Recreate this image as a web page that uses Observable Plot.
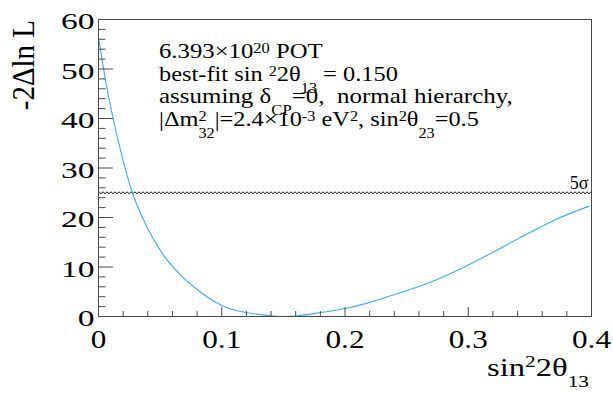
<!DOCTYPE html>
<html><head><meta charset="utf-8">
<script src="https://cdn.jsdelivr.net/npm/d3@7"></script>
<script src="https://cdn.jsdelivr.net/npm/@observablehq/plot@0.6"></script>
<style>
body{margin:0;background:#fff;}
svg{display:block}
</style>
</head><body><div id="chart"></div>
<script>
// ---- data ----
const sin2theta13 = [0, 0.006, 0.013, 0.020, 0.0275, 0.0395, 0.053, 0.0665, 0.080, 0.0935, 0.107, 0.1207, 0.131, 0.140, 0.150, 0.160, 0.180, 0.200, 0.218, 0.237, 0.264, 0.291, 0.318, 0.345, 0.372, 0.398];
const minus2dlnL  = [56.4, 47.3, 38.7, 31.5, 25, 18.0, 12.3, 8.4, 5.45, 3.1, 1.55, 0.75, 0.4, 0.13, 0, 0.1, 0.8, 1.6, 2.7, 4.2, 6.4, 9.3, 12.7, 16.3, 19.7, 22.3];
const xMajorTicks = [0, 0.1, 0.2, 0.3, 0.4];
const xTickLabels = ["0", "0.1", "0.2", "0.3", "0.4"];
const xMinorTicks = [0.02, 0.04, 0.06, 0.08, 0.12, 0.14, 0.16, 0.18, 0.22, 0.24, 0.26, 0.28, 0.32, 0.34, 0.36, 0.38];
const yMajorTicks = [0, 10, 20, 30, 40, 50, 60];
const yTickLabels = ["0", "10", "20", "30", "40", "50", "60"];
const yMinorTicks = [2, 4, 6, 8, 12, 14, 16, 18, 22, 24, 26, 28, 32, 34, 36, 38, 42, 44, 46, 48, 52, 54, 56, 58];
const fiveSigma = [{x: 0.4, y: 25, label: "5σ"}];
const xDomain = [0, 0.4];
const yDomain = [0, 60];
// rich text segments: [text, position] with position "b" base, "p" superscript, "s" subscript, "S" subscript stacked under previous superscript
const legendLines = [
  [["6.393×10", "b"], ["20", "p"], [" POT", "b"]],
  [["best-fit sin ", "b"], ["2", "p"], ["2θ", "b"], ["13", "s"], [" = 0.150", "b"]],
  [["assuming δ", "b"], ["CP", "s"], ["=0,  normal hierarchy,", "b"]],
  [["|Δm", "b"], ["2", "p"], ["32", "S"], ["|=2.4×10", "b"], ["-3", "p"], [" eV", "b"], ["2", "p"], [", sin", "b"], ["2", "p"], ["θ", "b"], ["23", "s"], ["=0.5", "b"]]
];
const xTitle = [["sin", "b"], ["2", "p"], ["2θ", "b"], ["13", "s"]];
const yTitle = "-2Δln L";

// ---- layout ----
const W = 613, H = 397, mL = 98, mR = 22, mT = 19, mB = 81;
const innerW = W - mL - mR, innerH = H - mT - mB;
const axisColor = "#4a4a4a";
const serif = "Liberation Serif, Times New Roman, Times, serif";

const curve = sin2theta13.map((x, i) => ({x, y: minus2dlnL[i]}));

const chart = Plot.plot({
  width: W, height: H,
  marginLeft: mL, marginRight: mR, marginTop: mT, marginBottom: mB,
  style: {fontFamily: serif, background: "#fff", color: "#000"},
  x: {domain: xDomain},
  y: {domain: yDomain},
  marks: [
    Plot.ruleY(fiveSigma, {y: "y", stroke: "#111", strokeWidth: 1, strokeDasharray: "2,2", dy: -0.5}),
    Plot.ruleY(fiveSigma, {y: "y", stroke: "#111", strokeWidth: 1, strokeDasharray: "2,2", strokeDashoffset: 2, dy: 0.5}),
    Plot.line(curve, {x: "x", y: "y", curve: "monotone-x", stroke: "#43a7f4", strokeWidth: 1.1}),
    Plot.ruleX(xMinorTicks, {x: d => d, insetTop: innerH - 5, stroke: axisColor}),
    Plot.ruleX(xMajorTicks, {x: d => d, insetTop: innerH - 9, stroke: axisColor}),
    Plot.ruleY(yMinorTicks, {y: d => d, insetRight: innerW - 7.5, stroke: axisColor}),
    Plot.ruleY(yMajorTicks, {y: d => d, insetRight: innerW - 15, stroke: axisColor}),
    Plot.frame({stroke: axisColor}),
    Plot.axisX({ticks: xMajorTicks, tickFormat: d => xTickLabels[xMajorTicks.indexOf(d)], tickSize: 0, tickPadding: 13, fontSize: 26, label: null}),
    Plot.axisY({ticks: yMajorTicks, tickFormat: d => yTickLabels[yMajorTicks.indexOf(d)], tickSize: 0, tickPadding: 4, fontSize: 24, label: null, dy: 2}),
    Plot.text(fiveSigma, {x: "x", y: "y", text: "label", textAnchor: "end", lineAnchor: "bottom", dx: -3, dy: -4, fontSize: 18})
  ]
});
document.getElementById("chart").appendChild(chart);

const svg = d3.select(chart.tagName.toLowerCase() === "svg" ? chart : chart.querySelector("svg"));

// horizontal stretch of text glyphs (the reference renders wide glyphs)
function stretch(sel, s) {
  sel.each(function () {
    let t = this.getAttribute("transform");
    if (!t) {
      const x = +this.getAttribute("x") || 0, y = +this.getAttribute("y") || 0;
      this.removeAttribute("x"); this.removeAttribute("y");
      t = `translate(${x},${y})`;
    }
    this.setAttribute("transform", t + ` scale(${s},1)`);
  });
}
stretch(svg.selectAll('g[aria-label="y-axis tick label"] text'), 1.4);
stretch(svg.selectAll('g[aria-label="x-axis tick label"] text'), 1.2);

// rich text helper
function rich(textSel, segs, size, small, supShift, subShift, stackBack) {
  let cur = 0;
  segs.forEach(([t, p]) => {
    const target = p === "b" ? 0 : p === "p" ? supShift : subShift;
    const ts = textSel.append("tspan").text(t).attr("dy", target - cur).attr("font-size", p === "b" ? size : small);
    if (p === "S") ts.attr("dx", -stackBack);
    cur = target;
  });
}
// fit a text horizontally to a target width (reference glyphs are wider than Times)
function fitWidth(textSel, tx, ty, target) {
  const w = textSel.node().getBBox().width || target;
  textSel.attr("transform", `translate(${tx},${ty}) scale(${target / w},1)`);
}

// legend
const legend = svg.append("g")
  .attr("font-family", serif).attr("fill", "#000").attr("text-anchor", "start");
const baselines = [57.7, 80.5, 103, 125.5];
const lineWidths = [164, 239, 354, 320];
legendLines.forEach((segs, i) => {
  const t = legend.append("text").attr("x", 0).attr("y", 0).attr("font-size", 21).attr("text-anchor", "start");
  rich(t, segs, 21, 14, -5, 12, 7);
  fitWidth(t, mL + 61, baselines[i], lineWidths[i]);
});

// x title
const xt = svg.append("text")
  .attr("text-anchor", "end").attr("font-family", serif).attr("font-size", 26).attr("fill", "#000");
rich(xt, xTitle, 26, 17, -9, 11, 0);
fitWidth(xt, W - mR - 2, H - 21, 102);

// y title
svg.append("text")
  .attr("transform", `translate(33.5,20) scale(1.12,1) rotate(-90)`)
  .attr("text-anchor", "end").attr("font-family", serif).attr("font-size", 29).attr("fill", "#000")
  .text(yTitle);
</script>
</body></html>
